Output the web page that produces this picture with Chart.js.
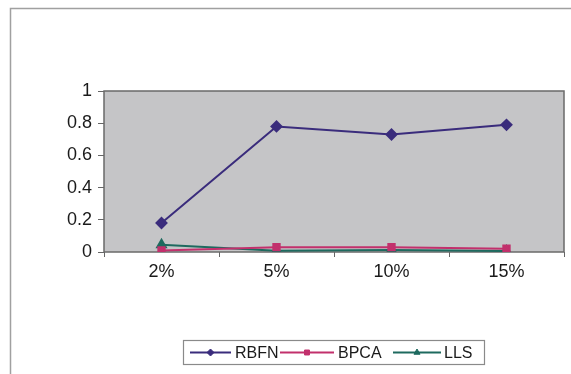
<!DOCTYPE html>
<html>
<head>
<meta charset="utf-8">
<script src="https://cdn.jsdelivr.net/npm/chart.js@4.4.1/dist/chart.umd.min.js"></script>
<style>
  html, body { margin: 0; padding: 0; background: #ffffff; }
  #wrap { width: 571px; height: 374px; position: relative; }
</style>
</head>
<body>
<div id="wrap"><canvas id="c" width="571" height="374"></canvas></div>
<script>
// Missing-rate categories and accuracy per method
const categories = ['2%', '5%', '10%', '15%'];
const rbfn = [0.18, 0.78, 0.73, 0.79];
const bpca = [0.01, 0.03, 0.03, 0.02];
const lls  = [0.045, 0.008, 0.012, 0.006];
const yTicks = [0, 0.2, 0.4, 0.6, 0.8, 1];

const FONT = 'Liberation Sans, Arial, sans-serif';

// Gray plot background, plot border and outer frame
const frame = {
  id: 'frame',
  beforeDatasetsDraw(chart) {
    const { ctx, chartArea: a } = chart;
    ctx.save();
    ctx.fillStyle = '#c5c5c7';
    ctx.fillRect(a.left, a.top, a.right - a.left, a.bottom - a.top);
    ctx.strokeStyle = '#6a6a6a';
    ctx.lineWidth = 1.5;
    ctx.strokeRect(a.left, a.top, a.right - a.left, a.bottom - a.top);
    ctx.restore();
  },
  beforeDraw(chart) {
    const { ctx } = chart;
    ctx.save();
    ctx.strokeStyle = '#a0a0a0';
    ctx.lineWidth = 1.5;
    ctx.beginPath();
    ctx.moveTo(10.5, 374);
    ctx.lineTo(10.5, 8.5);
    ctx.lineTo(571, 8.5);
    ctx.stroke();
    ctx.restore();
  }
};

// Boxed legend with line + marker samples
const boxLegend = {
  id: 'boxLegend',
  afterDraw(chart) {
    const { ctx } = chart;
    const box = { x: 183.5, y: 340.5, w: 301, h: 24 };
    const items = [
      { x0: 190, x1: 231, tx: 235 },
      { x0: 280, x1: 334, tx: 338 },
      { x0: 393, x1: 441, tx: 444 }
    ];
    const cy = box.y + box.h / 2;
    ctx.save();
    ctx.strokeStyle = '#8a8a8a';
    ctx.lineWidth = 1.2;
    ctx.strokeRect(box.x, box.y, box.w, box.h);
    chart.data.datasets.forEach((ds, i) => {
      const it = items[i];
      ctx.strokeStyle = ds.borderColor;
      ctx.fillStyle = ds.borderColor;
      ctx.lineWidth = 2;
      ctx.beginPath();
      ctx.moveTo(it.x0, cy);
      ctx.lineTo(it.x1, cy);
      ctx.stroke();
      ctx.lineWidth = 1;
      Chart.helpers.drawPoint(ctx, {
        pointStyle: ds.pointStyle,
        radius: 3.5,
        borderWidth: 1
      }, (it.x0 + it.x1) / 2, cy);
      ctx.fillStyle = '#1a1a1a';
      ctx.font = '16px ' + FONT;
      ctx.textBaseline = 'middle';
      ctx.textAlign = 'left';
      ctx.fillText(ds.label, it.tx, cy + 1);
    });
    ctx.restore();
  }
};

function series(label, data, color, style, r) {
  return {
    label, data,
    borderColor: color,
    backgroundColor: color,
    pointBackgroundColor: color,
    pointBorderColor: color,
    pointStyle: style,
    pointRadius: r,
    pointHoverRadius: r,
    borderWidth: 2,
    tension: 0,
    fill: false
  };
}

new Chart(document.getElementById('c'), {
  type: 'line',
  data: {
    labels: categories,
    datasets: [
      series('RBFN', rbfn, '#3a2c7c', 'rectRot', 5),
      series('BPCA', bpca, '#c2306c', 'rect', 4.5),
      series('LLS', lls, '#1e6a5f', 'triangle', 5)
    ]
  },
  options: {
    responsive: false,
    animation: false,
    devicePixelRatio: 1,
    layout: { padding: { left: 0, top: 91, right: 7, bottom: 0 } },
    plugins: { legend: { display: false }, tooltip: { enabled: false } },
    scales: {
      x: {
        offset: true,
        afterFit(s) { s.height = 122; },
        grid: { display: true, offset: true, drawOnChartArea: false, drawTicks: true, tickLength: 5, color: '#666' },
        border: { display: false },
        ticks: { color: '#1a1a1a', font: { family: FONT, size: 18 }, padding: 4 }
      },
      y: {
        min: 0, max: 1,
        afterFit(s) { s.width = 104; },
        afterBuildTicks(s) { s.ticks = yTicks.map(v => ({ value: v })); },
        grid: { display: true, drawOnChartArea: false, drawTicks: true, tickLength: 6, color: '#666' },
        border: { display: false },
        ticks: {
          color: '#1a1a1a', font: { family: FONT, size: 18 }, padding: 6,
          callback: v => String(Math.round(v * 10) / 10)
        }
      }
    }
  },
  plugins: [frame, boxLegend]
});
</script>
</body>
</html>
